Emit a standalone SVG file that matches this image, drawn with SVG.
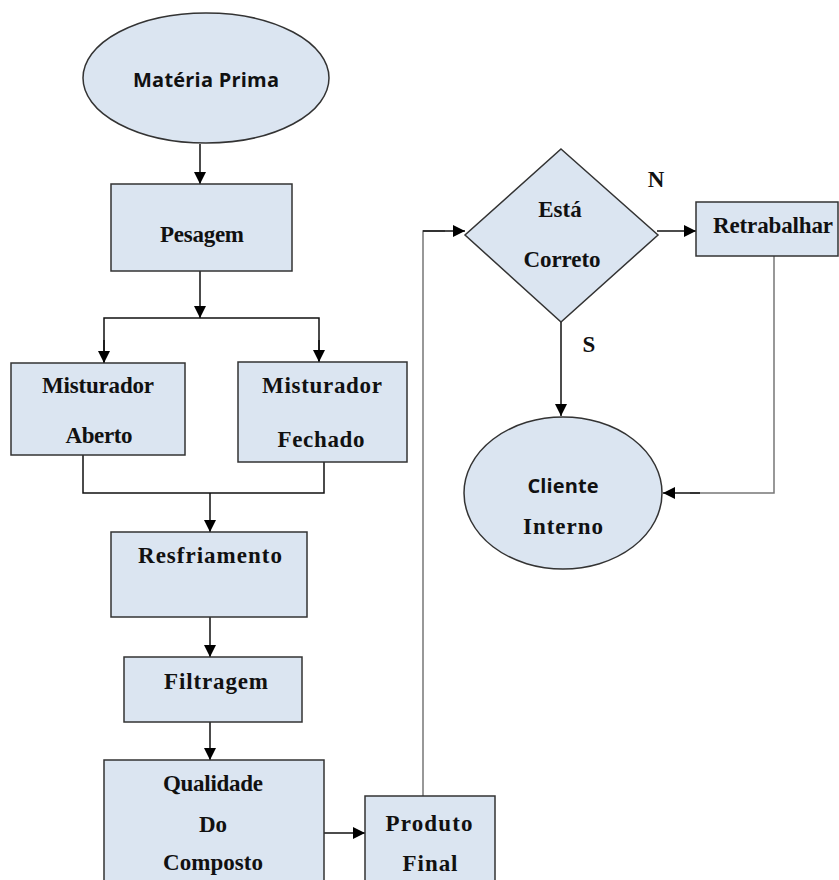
<svg xmlns="http://www.w3.org/2000/svg" width="839" height="880" viewBox="0 0 839 880">
<defs>
<marker id="ah" viewBox="0 0 10 10" refX="10" refY="5" markerWidth="12" markerHeight="12" markerUnits="userSpaceOnUse" orient="auto">
<path d="M0,0 L10,5 L0,10 Z" fill="#000"/>
</marker>
<style>
.shape{fill:#dbe5f1;stroke:#333;stroke-width:1.5}
.serif{font-family:"Liberation Serif","Times New Roman",serif;font-weight:bold;font-size:23px;fill:#111;text-anchor:middle}
.sans{font-family:"Open Sans","DejaVu Sans",sans-serif;font-weight:bold;font-size:20px;fill:#111;text-anchor:middle}
.c{fill:none;stroke:#111;stroke-width:1.5}
.g{fill:none;stroke:#777;stroke-width:1.5}
</style>
</defs>
<rect width="839" height="880" fill="#fff"/>
<g id="connectors">
<line class="c" x1="200" y1="144" x2="200" y2="184" marker-end="url(#ah)"/>
<line class="c" x1="200" y1="271" x2="200" y2="318" marker-end="url(#ah)"/>
<polyline class="c" points="104,363 104,318 319,318 319,362"/>
<line class="c" x1="104" y1="340" x2="104" y2="363" marker-end="url(#ah)"/>
<line class="c" x1="319" y1="340" x2="319" y2="362" marker-end="url(#ah)"/>
<polyline class="c" points="83,455 83,493 324,493 324,462"/>
<line class="c" x1="210" y1="493" x2="210" y2="532" marker-end="url(#ah)"/>
<line class="c" x1="210" y1="617" x2="210" y2="657" marker-end="url(#ah)"/>
<line class="c" x1="210" y1="722" x2="210" y2="760" marker-end="url(#ah)"/>
<line class="c" x1="324" y1="833" x2="365" y2="833" marker-end="url(#ah)"/>
<polyline class="g" points="423,796 423,231 445,231"/>
<line class="c" x1="423" y1="231" x2="465" y2="231" marker-end="url(#ah)"/>
<line class="c" x1="657" y1="231" x2="696" y2="231" marker-end="url(#ah)"/>
<line class="c" x1="561" y1="322" x2="561" y2="416" marker-end="url(#ah)"/>
<polyline class="g" points="774,256 774,493 690,493"/>
<line class="c" x1="700" y1="493" x2="663" y2="493" marker-end="url(#ah)"/>
</g>
<g id="materia-prima">
<ellipse class="shape" cx="206" cy="78" rx="123" ry="65"/>
<text class="sans" x="206" y="87" textLength="146">Matéria Prima</text>
</g>
<g id="pesagem">
<rect class="shape" x="111" y="184" width="181" height="87"/>
<text class="serif" x="202" y="242" textLength="84">Pesagem</text>
</g>
<g id="misturador-aberto">
<rect class="shape" x="11" y="363" width="174" height="92"/>
<text class="serif" x="98" y="393" textLength="112">Misturador</text>
<text class="serif" x="99" y="443" textLength="67">Aberto</text>
</g>
<g id="misturador-fechado">
<rect class="shape" x="238" y="362" width="169" height="100"/>
<text class="serif" x="322" y="393" textLength="120">Misturador</text>
<text class="serif" x="321" y="447" textLength="87">Fechado</text>
</g>
<g id="resfriamento">
<rect class="shape" x="111" y="532" width="196" height="85"/>
<text class="serif" x="210" y="563" textLength="144">Resfriamento</text>
</g>
<g id="filtragem">
<rect class="shape" x="124" y="657" width="178" height="65"/>
<text class="serif" x="216" y="689" textLength="104">Filtragem</text>
</g>
<g id="qualidade">
<rect class="shape" x="104" y="760" width="220" height="130"/>
<text class="serif" x="213" y="791" textLength="100">Qualidade</text>
<text class="serif" x="213" y="832">Do</text>
<text class="serif" x="213" y="870" textLength="100">Composto</text>
</g>
<g id="produto-final">
<rect class="shape" x="365" y="796" width="130" height="94"/>
<text class="serif" x="429" y="831" textLength="87">Produto</text>
<text class="serif" x="430" y="871" textLength="55">Final</text>
</g>
<g id="esta-correto">
<polygon class="shape" points="561,149 658,235 561,322 465,235"/>
<text class="serif" x="560" y="217">Está</text>
<text class="serif" x="562" y="267" textLength="77">Correto</text>
</g>
<g id="retrabalhar">
<rect class="shape" x="696" y="202" width="142" height="54"/>
<text class="serif" x="773" y="233" textLength="120">Retrabalhar</text>
</g>
<g id="cliente-interno">
<ellipse class="shape" cx="563" cy="493" rx="99" ry="76"/>
<text class="sans" x="563" y="493" textLength="71">Cliente</text>
<text class="serif" x="563" y="534" textLength="80">Interno</text>
</g>
<g id="labels">
<text class="serif" x="656" y="187">N</text>
<text class="serif" x="589" y="352">S</text>
</g>
</svg>
